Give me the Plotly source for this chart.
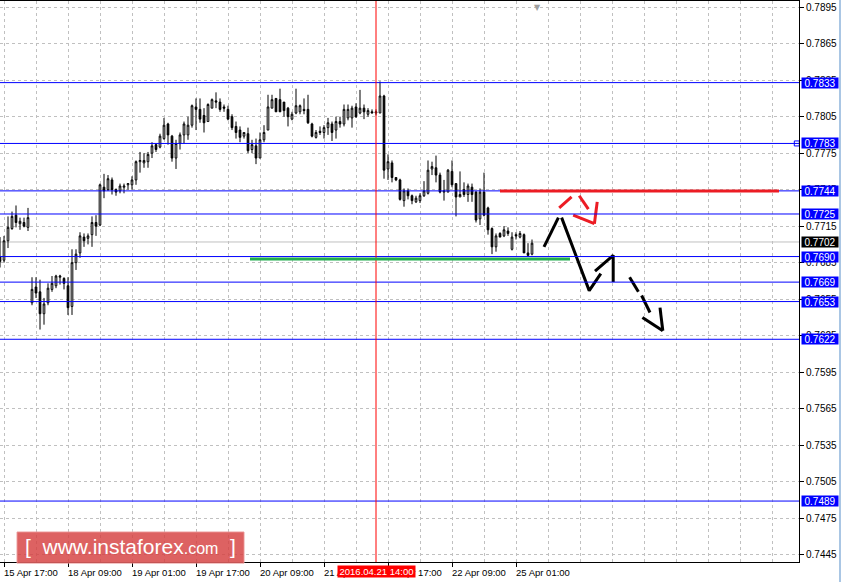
import plotly.graph_objects as go

# H1 bars, index 0 = 15 Apr 17:00
bar_idx = list(range(-1, 133))
opens = [0.7690, 0.7687, 0.7703, 0.7713, 0.7724, 0.7717, 0.7718, 0.7714, 0.7652, 0.7665,
         0.7661, 0.7643, 0.7652, 0.7663, 0.7666, 0.7673, 0.7672, 0.7666, 0.7649, 0.7685,
         0.7693, 0.7706, 0.7705, 0.7708, 0.7718, 0.7716, 0.7747, 0.7745, 0.7753, 0.7745,
         0.7744, 0.7747, 0.7749, 0.7749, 0.7753, 0.7768, 0.7767, 0.7768, 0.7775, 0.7782,
         0.7780, 0.7787, 0.7799, 0.7789, 0.7771, 0.7783, 0.7790, 0.7790, 0.7798, 0.7813,
         0.7811, 0.7806, 0.7801, 0.7812, 0.7818, 0.7817, 0.7813, 0.7811, 0.7805, 0.7797,
         0.7794, 0.7789, 0.7791, 0.7778, 0.7781, 0.7771, 0.7786, 0.7794, 0.7812, 0.7820,
         0.7819, 0.7817, 0.7812, 0.7803, 0.7808, 0.7809, 0.7811, 0.7811, 0.7799, 0.7788,
         0.7793, 0.7792, 0.7796, 0.7799, 0.7794, 0.7801, 0.7799, 0.7804, 0.7804, 0.7813,
         0.7808, 0.7812, 0.7807, 0.7809, 0.7808, 0.7808, 0.7822, 0.7762, 0.7767, 0.7755,
         0.7753, 0.7736, 0.7744, 0.7740, 0.7735, 0.7736, 0.7740, 0.7742, 0.7762, 0.7763,
         0.7757, 0.7743, 0.7743, 0.7760, 0.7750, 0.7739, 0.7745, 0.7741, 0.7747, 0.7743,
         0.7721, 0.7743, 0.7730, 0.7713, 0.7698, 0.7709, 0.7707, 0.7711, 0.7696, 0.7708,
         0.7706, 0.7708, 0.7693, 0.7692]
highs = [0.7706, 0.7707, 0.7723, 0.7727, 0.7732, 0.7722, 0.7722, 0.7730, 0.7673, 0.7673,
         0.7671, 0.7656, 0.7668, 0.7674, 0.7675, 0.7675, 0.7673, 0.7673, 0.7696, 0.7696,
         0.7710, 0.7709, 0.7709, 0.7723, 0.7724, 0.7750, 0.7758, 0.7757, 0.7755, 0.7746,
         0.7750, 0.7750, 0.7750, 0.7756, 0.7769, 0.7776, 0.7775, 0.7776, 0.7784, 0.7783,
         0.7791, 0.7804, 0.7800, 0.7790, 0.7786, 0.7792, 0.7801, 0.7805, 0.7815, 0.7820,
         0.7820, 0.7812, 0.7816, 0.7820, 0.7825, 0.7820, 0.7815, 0.7814, 0.7807, 0.7801,
         0.7797, 0.7792, 0.7796, 0.7786, 0.7787, 0.7792, 0.7798, 0.7823, 0.7823, 0.7820,
         0.7828, 0.7817, 0.7813, 0.7809, 0.7828, 0.7815, 0.7820, 0.7823, 0.7800, 0.7794,
         0.7797, 0.7798, 0.7804, 0.7801, 0.7805, 0.7805, 0.7815, 0.7815, 0.7814, 0.7816,
         0.7827, 0.7815, 0.7812, 0.7811, 0.7811, 0.7834, 0.7823, 0.7774, 0.7769, 0.7755,
         0.7754, 0.7746, 0.7746, 0.7741, 0.7740, 0.7742, 0.7752, 0.7769, 0.7768, 0.7773,
         0.7759, 0.7753, 0.7762, 0.7769, 0.7750, 0.7760, 0.7751, 0.7750, 0.7750, 0.7744,
         0.7746, 0.7759, 0.7731, 0.7714, 0.7709, 0.7710, 0.7715, 0.7714, 0.7710, 0.7710,
         0.7711, 0.7709, 0.7701, 0.7704]
lows = [0.7681, 0.7685, 0.7697, 0.7712, 0.7714, 0.7712, 0.7714, 0.7711, 0.7650, 0.7656,
        0.7630, 0.7634, 0.7650, 0.7661, 0.7664, 0.7667, 0.7663, 0.7642, 0.7642, 0.7679,
        0.7689, 0.7698, 0.7700, 0.7698, 0.7707, 0.7715, 0.7738, 0.7744, 0.7741, 0.7740,
        0.7742, 0.7742, 0.7745, 0.7745, 0.7749, 0.7759, 0.7763, 0.7763, 0.7771, 0.7776,
        0.7779, 0.7786, 0.7782, 0.7768, 0.7762, 0.7778, 0.7783, 0.7786, 0.7796, 0.7794,
        0.7800, 0.7792, 0.7801, 0.7812, 0.7812, 0.7809, 0.7809, 0.7802, 0.7794, 0.7787,
        0.7784, 0.7787, 0.7775, 0.7775, 0.7766, 0.7771, 0.7784, 0.7794, 0.7812, 0.7809,
        0.7809, 0.7805, 0.7797, 0.7802, 0.7807, 0.7807, 0.7807, 0.7799, 0.7788, 0.7787,
        0.7790, 0.7787, 0.7790, 0.7785, 0.7787, 0.7796, 0.7797, 0.7802, 0.7796, 0.7804,
        0.7807, 0.7803, 0.7805, 0.7808, 0.7806, 0.7808, 0.7754, 0.7753, 0.7751, 0.7752,
        0.7736, 0.7731, 0.7737, 0.7733, 0.7734, 0.7734, 0.7739, 0.7741, 0.7757, 0.7751,
        0.7742, 0.7736, 0.7743, 0.7747, 0.7723, 0.7739, 0.7739, 0.7735, 0.7735, 0.7718,
        0.7716, 0.7723, 0.7708, 0.7692, 0.7694, 0.7706, 0.7706, 0.7707, 0.7695, 0.7704,
        0.7705, 0.7693, 0.7690, 0.7691]
closes = [0.7686, 0.7703, 0.7714, 0.7723, 0.7718, 0.7719, 0.7715, 0.7722, 0.7663, 0.7660,
          0.7643, 0.7651, 0.7664, 0.7668, 0.7674, 0.7674, 0.7668, 0.7648, 0.7685, 0.7692,
          0.7707, 0.7703, 0.7707, 0.7718, 0.7715, 0.7749, 0.7744, 0.7754, 0.7745, 0.7743,
          0.7748, 0.7748, 0.7750, 0.7753, 0.7768, 0.7769, 0.7769, 0.7774, 0.7781, 0.7778,
          0.7789, 0.7798, 0.7790, 0.7771, 0.7783, 0.7790, 0.7799, 0.7798, 0.7814, 0.7811,
          0.7803, 0.7800, 0.7815, 0.7819, 0.7817, 0.7811, 0.7812, 0.7803, 0.7796, 0.7792,
          0.7788, 0.7792, 0.7777, 0.7782, 0.7771, 0.7786, 0.7792, 0.7813, 0.7819, 0.7809,
          0.7809, 0.7810, 0.7805, 0.7807, 0.7814, 0.7814, 0.7810, 0.7800, 0.7789, 0.7792,
          0.7792, 0.7796, 0.7800, 0.7792, 0.7801, 0.7799, 0.7811, 0.7811, 0.7812, 0.7805,
          0.7812, 0.7809, 0.7810, 0.7808, 0.7809, 0.7822, 0.7761, 0.7768, 0.7755, 0.7753,
          0.7737, 0.7744, 0.7740, 0.7736, 0.7738, 0.7740, 0.7744, 0.7761, 0.7764, 0.7757,
          0.7743, 0.7744, 0.7761, 0.7749, 0.7739, 0.7741, 0.7741, 0.7748, 0.7741, 0.7720,
          0.7743, 0.7724, 0.7712, 0.7698, 0.7707, 0.7706, 0.7712, 0.7709, 0.7706, 0.7707,
          0.7709, 0.7693, 0.7691, 0.7701]

tick_pos = [0, 16, 32, 48, 64, 80, 96, 112, 128]
tick_text = ["15 Apr 17:00", "18 Apr 09:00", "19 Apr 01:00", "19 Apr 17:00", "20 Apr 09:00",
             "21 Apr 01:00", "21 Apr 17:00", "22 Apr 09:00", "25 Apr 01:00"]

blue_levels = [0.7833, 0.7783, 0.7744, 0.7725, 0.7690, 0.7669, 0.7653, 0.7622, 0.7489]
current_price = 0.7702
marker_bar = 93
marker_label = "2016.04.21 14:00"

green_level = 0.7688
green_from, green_to = 61.5, 141.5
red_level = 0.7744
red_from, red_to = 124, 193.75

zig_x = [135.0, 138.6, None, 139.4, 146.3, 149.2, None, 147.75, 152.3, 152.3]
zig_y = [0.7698, 0.7722, None, 0.7722, 0.7662, 0.7676, None, 0.7678, 0.7691, 0.7669]
dash_x = [156.4, 158.6, None, 159.4, 161.5, None, 159.6, 164.7, None, 164.0, 164.7]
dash_y = [0.7673, 0.7661, None, 0.7658, 0.7644, None, 0.7640, 0.7629, None, 0.7648, 0.7629]
rev_x = [138.8, 141.9, None, 143.8, 146.1, None, 142.3, 147.6, None, 148.3, 147.6]
rev_y = [0.7730, 0.7739, None, 0.7740, 0.7729, None, 0.7724, 0.7717, None, 0.7735, 0.7717]

FONT = "Liberation Sans, Arial, sans-serif"

fig = go.Figure()
fig.add_trace(go.Candlestick(
    x=bar_idx, open=opens, high=highs, low=lows, close=closes,
    increasing=dict(line=dict(color="black", width=1), fillcolor="white"),
    decreasing=dict(line=dict(color="black", width=1), fillcolor="black"),
    whiskerwidth=0, showlegend=False, hoverinfo="skip"))

fig.add_trace(go.Scatter(x=zig_x, y=zig_y, mode="lines", line=dict(color="black", width=3),
                         showlegend=False, hoverinfo="skip"))
fig.add_trace(go.Scatter(x=dash_x, y=dash_y, mode="lines", line=dict(color="black", width=3),
                         showlegend=False, hoverinfo="skip"))
fig.add_trace(go.Scatter(x=rev_x, y=rev_y, mode="lines", line=dict(color="#ec1c24", width=3),
                         showlegend=False, hoverinfo="skip"))
fig.add_trace(go.Scatter(x=[198.2], y=[0.7783], mode="markers",
                         marker=dict(symbol="square-open", size=5, color="blue", line=dict(width=1)),
                         showlegend=False, hoverinfo="skip", cliponaxis=False))

shapes = []
shapes.append(dict(type="line", xref="paper", x0=0, x1=1, yref="y", y0=current_price,
                   y1=current_price, line=dict(color="#c0c0c0", width=1), layer="below"))
for lv in blue_levels:
    shapes.append(dict(type="line", xref="paper", x0=0, x1=1, yref="y", y0=lv, y1=lv,
                       line=dict(color="#0000ff", width=1)))
shapes.append(dict(type="line", xref="x", x0=marker_bar, x1=marker_bar, yref="paper", y0=0, y1=1,
                   line=dict(color="red", width=1)))
shapes.append(dict(type="line", xref="x", x0=green_from, x1=green_to, yref="y", y0=green_level,
                   y1=green_level, line=dict(color="#1fae4c", width=3)))
shapes.append(dict(type="line", xref="x", x0=red_from, x1=red_to, yref="y", y0=red_level,
                   y1=red_level, line=dict(color="#ec1c24", width=3)))
# watermark box
shapes.append(dict(type="rect", xref="paper", yref="paper", x0=0.0213, x1=0.3054, y0=-0.002, y1=0.0535,
                   fillcolor="rgba(214,64,64,0.82)", line=dict(color="rgba(235,150,150,0.9)", width=1)))
# window edge
shapes.append(dict(type="line", xref="paper", yref="paper", x0=1.0513, x1=1.0513, y0=-0.04, y1=1.01,
                   line=dict(color="#a9c6e4", width=2)))

annotations = []
for pos, txt in zip(tick_pos, tick_text):
    annotations.append(dict(x=pos, xref="x", y=0, yref="paper", yshift=-3, text=txt,
                            showarrow=False, xanchor="left", yanchor="top", xshift=-2,
                            font=dict(family=FONT, size=9.5, color="black")))
annotations.append(dict(x=marker_bar, xref="x", y=0, yref="paper", yshift=-3, text=marker_label,
                        showarrow=False, xanchor="center", yanchor="top", bgcolor="red",
                        borderpad=0, width=77, height=11,
                        font=dict(family=FONT, size=9.5, color="white")))
for lv in blue_levels:
    annotations.append(dict(x=1, xref="paper", xshift=2, y=lv, yref="y", text=f"{lv:.4f}",
                            showarrow=False, xanchor="left", yanchor="middle", bgcolor="#0000ff",
                            borderpad=0, width=36, height=10,
                            font=dict(family=FONT, size=10, color="white")))
annotations.append(dict(x=1, xref="paper", xshift=2, y=current_price, yref="y",
                        text=f"{current_price:.4f}", showarrow=False, xanchor="left",
                        yanchor="middle", bgcolor="black", borderpad=0, width=36, height=10,
                        font=dict(family=FONT, size=10, color="white")))
annotations.append(dict(x=133.25, xref="x", y=1, yref="paper", text="▼", showarrow=False,
                        yanchor="top", font=dict(family="DejaVu Sans", size=8, color="#a0a0a0")))
annotations.append(dict(x=0.163, xref="paper", y=0.027, yref="paper",
                        text="[ &nbsp;www.instaforex<span style='font-size:16px'>.com</span>&nbsp; ]",
                        showarrow=False, xanchor="center", yanchor="middle",
                        font=dict(family=FONT, size=21, color="white")))

fig.update_layout(
    width=842, height=582,
    margin=dict(l=0, r=43, t=1, b=20),
    paper_bgcolor="white", plot_bgcolor="white",
    boxgap=0.4,
    shapes=shapes, annotations=annotations,
    xaxis=dict(range=[-1, 198.75], tickvals=tick_pos, ticktext=[""] * len(tick_pos),
               showticklabels=False, ticks="outside", ticklen=4, tickcolor="black",
               showgrid=True, gridcolor="#c0c0c0", griddash="3px,3px", gridwidth=1,
               minor=dict(dtick=8, tick0=0, showgrid=True, gridcolor="#c0c0c0",
                          griddash="3px,3px", ticks=""),
               showline=True, linecolor="black", linewidth=1, mirror=True,
               zeroline=False, rangeslider=dict(visible=False), fixedrange=True),
    yaxis=dict(range=[0.74389, 0.79001], side="right", tick0=0.7445, dtick=0.003,
               tickformat=".4f", ticks="outside", ticklen=4, tickcolor="black",
               tickfont=dict(family=FONT, size=10, color="black"),
               showgrid=True, gridcolor="#c0c0c0", griddash="3px,3px", gridwidth=1,
               showline=True, linecolor="black", linewidth=1, zeroline=False, fixedrange=True),
)

fig.write_html("out.html", config={"displayModeBar": False},
               post_script="document.body.style.margin='0px';")
